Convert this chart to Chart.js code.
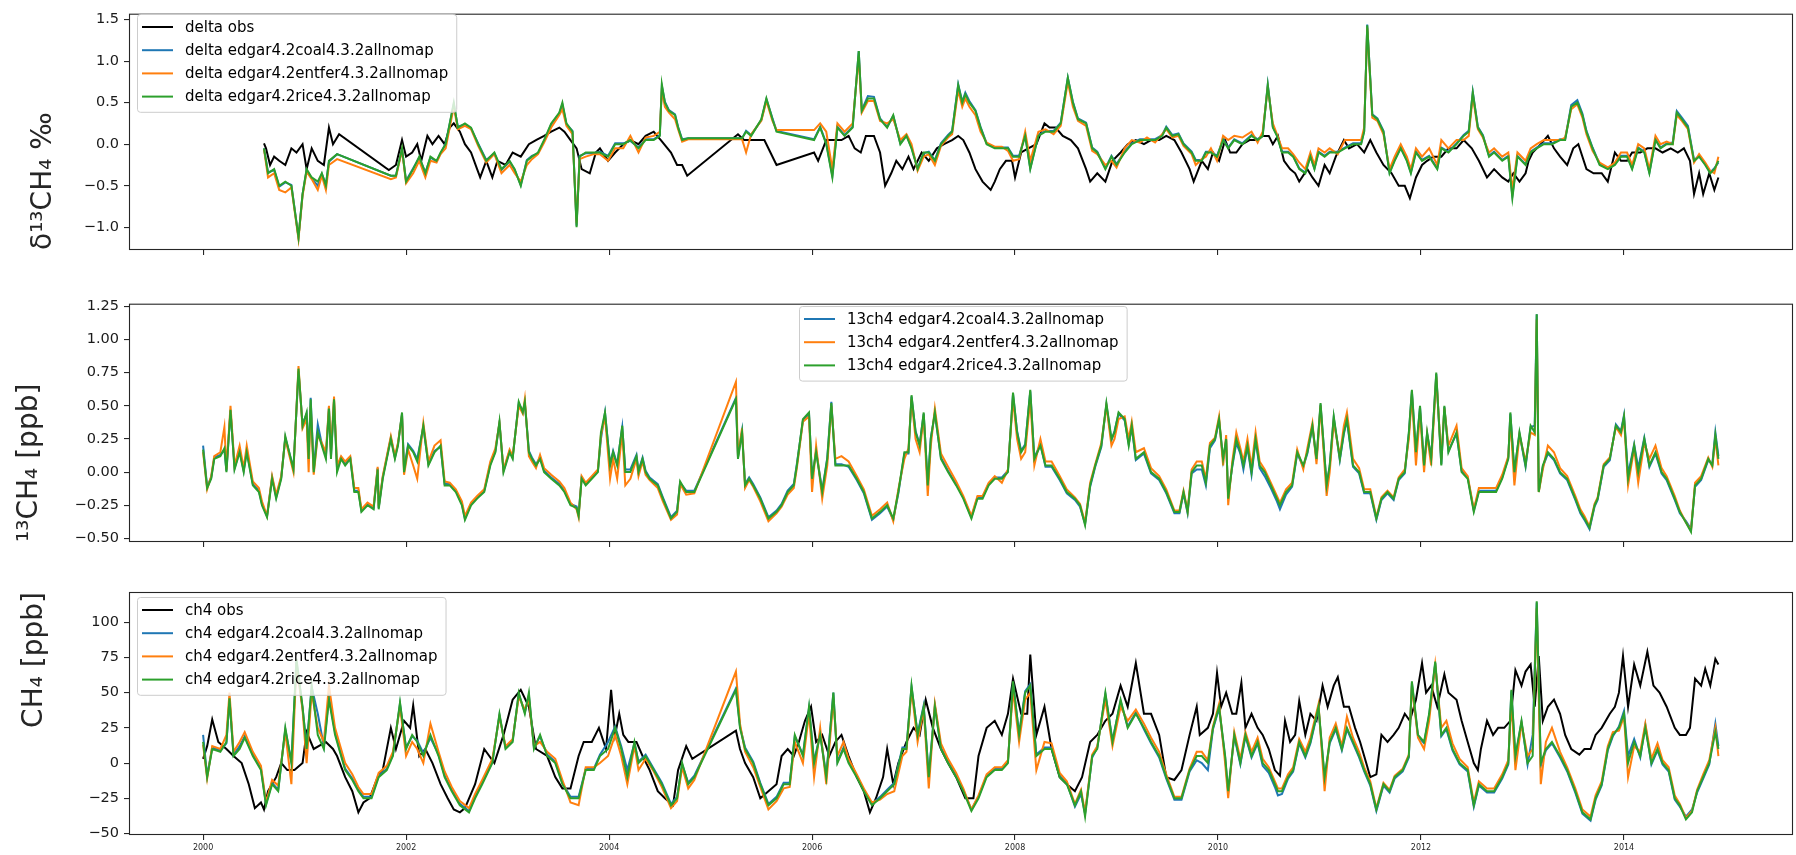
<!DOCTYPE html>
<html><head><meta charset="utf-8">
<script src="https://cdn.jsdelivr.net/npm/chart.js@4.4.0/dist/chart.umd.min.js"></script>
<style>
html,body{margin:0;padding:0;background:#fff;}
body{width:1796px;height:855px;position:relative;overflow:hidden;}
.panel{position:absolute;left:0;width:1796px;}
</style></head><body>
<div class="panel" style="top:0;height:290px"><canvas id="c1" width="1796" height="290"></canvas></div>
<div class="panel" style="top:290px;height:280px"><canvas id="c2" width="1796" height="280"></canvas></div>
<div class="panel" style="top:570px;height:285px"><canvas id="c3" width="1796" height="285"></canvas></div>
<script>
// ---------------- tick labels / categories ----------------
const xTicks = [2000, 2002, 2004, 2006, 2008, 2010, 2012, 2014];
const deltaTicks = [-1.0, -0.5, 0.0, 0.5, 1.0, 1.5];
const c13Ticks = [-0.50, -0.25, 0.00, 0.25, 0.50, 0.75, 1.00, 1.25];
const ch4Ticks = [-50, -25, 0, 25, 50, 75, 100];

const deltaLabels = ['delta obs', 'delta edgar4.2coal4.3.2allnomap', 'delta edgar4.2entfer4.3.2allnomap', 'delta edgar4.2rice4.3.2allnomap'];
const c13Labels = ['13ch4 edgar4.2coal4.3.2allnomap', '13ch4 edgar4.2entfer4.3.2allnomap', '13ch4 edgar4.2rice4.3.2allnomap'];
const ch4Labels = ['ch4 obs', 'ch4 edgar4.2coal4.3.2allnomap', 'ch4 edgar4.2entfer4.3.2allnomap', 'ch4 edgar4.2rice4.3.2allnomap'];

// ---------------- top panel: delta 13CH4 ----------------
const deltaObsDates = [
 2000.60,2000.62,2000.66,2000.70,2000.75,2000.81,2000.87,2000.92,2000.98,
 2001.02,2001.07,2001.13,2001.19,2001.24,2001.28,2001.34,2001.83,2001.90,2001.96,
 2002.00,2002.06,2002.11,2002.15,2002.21,2002.26,2002.32,2002.38,2002.43,2002.47,2002.53,2002.58,2002.64,2002.70,2002.73,2002.79,2002.85,2002.90,2002.98,
 2003.05,2003.13,2003.21,2003.28,2003.36,2003.43,2003.51,2003.56,2003.62,2003.68,2003.73,2003.81,2003.87,2003.91,2003.99,
 2004.06,2004.14,2004.21,2004.29,2004.36,2004.44,2004.51,2004.61,2004.67,2004.72,2004.77,
 2005.27,2005.33,2005.42,2005.53,2005.59,2005.65,
 2006.02,2006.06,2006.14,2006.21,2006.29,2006.36,2006.42,2006.48,2006.53,2006.61,2006.67,2006.72,2006.78,2006.83,2006.89,2006.95,
 2007.00,2007.08,2007.15,2007.23,2007.30,2007.38,2007.44,2007.49,2007.55,2007.61,2007.68,2007.76,2007.80,2007.85,2007.91,2007.97,
 2008.00,2008.06,2008.13,2008.21,2008.29,2008.34,2008.40,2008.47,2008.55,2008.62,2008.70,2008.74,2008.81,2008.89,2008.96,
 2009.04,2009.11,2009.19,2009.27,2009.34,2009.42,2009.49,2009.57,2009.64,2009.72,2009.76,2009.84,2009.90,2009.95,
 2010.01,2010.07,2010.12,2010.18,2010.24,2010.31,2010.39,2010.44,2010.50,2010.54,2010.59,2010.65,2010.71,2010.76,2010.80,2010.88,2010.93,2010.99,
 2011.05,2011.10,2011.16,2011.24,2011.29,2011.37,2011.44,2011.50,2011.56,2011.63,2011.71,2011.78,2011.84,2011.89,2011.95,
 2012.01,2012.06,2012.12,2012.20,2012.27,2012.35,2012.42,2012.50,2012.57,2012.65,2012.72,2012.80,2012.86,2012.91,2012.97,
 2013.03,2013.06,2013.10,2013.18,2013.25,2013.31,2013.37,2013.44,2013.50,2013.55,2013.63,2013.70,2013.78,2013.84,2013.91,2013.97,
 2014.03,2014.08,2014.16,2014.23,2014.31,2014.38,2014.46,2014.53,2014.59,2014.65,2014.69,2014.74,2014.78,2014.84,2014.89,2014.93
];
const deltaObs = [
 0.01,-0.05,-0.25,-0.15,-0.20,-0.25,-0.05,-0.10,0.00,
 -0.30,-0.05,-0.20,-0.25,0.20,0.00,0.12,-0.31,-0.25,0.05,
 -0.15,-0.10,0.00,-0.20,0.10,0.00,0.10,0.00,0.20,0.25,0.15,0.00,-0.10,-0.30,-0.40,-0.20,-0.40,-0.20,-0.25,
 -0.10,-0.15,0.00,0.05,0.10,0.15,0.20,0.15,0.05,-0.05,-0.30,-0.35,-0.10,-0.05,-0.20,
 -0.10,0.00,0.05,0.00,0.10,0.15,0.05,-0.10,-0.25,-0.25,-0.38,
 0.12,0.05,0.05,0.05,-0.10,-0.25,
 -0.10,-0.20,0.05,0.05,0.05,0.10,-0.05,-0.10,0.10,0.10,-0.10,-0.50,-0.35,-0.20,-0.30,-0.15,
 -0.30,-0.10,-0.20,-0.05,0.00,0.05,0.10,0.05,-0.10,-0.30,-0.45,-0.55,-0.45,-0.30,-0.20,-0.20,
 -0.40,-0.10,-0.05,0.00,0.25,0.20,0.20,0.10,0.05,-0.05,-0.30,-0.45,-0.35,-0.45,-0.20,
 -0.10,0.00,0.05,0.00,0.05,0.05,0.10,0.05,-0.10,-0.30,-0.45,-0.20,-0.30,-0.10,
 -0.20,0.05,-0.10,-0.10,0.00,0.05,0.05,0.10,0.10,0.00,0.10,-0.20,-0.30,-0.35,-0.45,-0.30,-0.40,-0.50,
 -0.25,-0.35,-0.15,0.05,-0.05,0.00,-0.10,0.05,-0.10,-0.25,-0.35,-0.50,-0.50,-0.65,-0.40,
 -0.25,-0.20,-0.15,-0.15,-0.05,-0.05,0.05,-0.05,-0.20,-0.40,-0.30,-0.40,-0.45,-0.35,-0.45,
 -0.35,-0.20,-0.10,0.00,0.10,-0.05,-0.15,-0.25,-0.05,0.00,-0.30,-0.35,-0.35,-0.45,-0.10,-0.20,
 -0.20,-0.10,-0.10,-0.05,-0.05,-0.10,-0.05,-0.10,-0.05,-0.20,-0.60,-0.35,-0.60,-0.35,-0.55,-0.40
];
const deltaModDates = [
 2000.60,2000.64,2000.70,2000.75,2000.81,2000.87,2000.94,2000.98,
 2001.02,2001.07,2001.13,2001.17,2001.21,2001.24,2001.32,2001.85,2001.90,2001.96,
 2002.00,2002.07,2002.13,2002.19,2002.24,2002.30,2002.34,2002.39,2002.47,2002.51,2002.58,2002.64,2002.71,2002.79,2002.87,2002.94,
 2003.02,2003.07,2003.13,2003.19,2003.24,2003.30,2003.36,2003.43,2003.51,2003.54,2003.58,2003.64,2003.68,2003.71,2003.77,2003.85,2003.91,2003.99,
 2004.06,2004.14,2004.21,2004.29,2004.36,2004.44,2004.50,2004.52,2004.55,2004.59,2004.65,2004.68,2004.72,2004.78,
 2005.31,2005.35,2005.40,2005.50,2005.55,2005.61,2005.65,
 2006.02,2006.08,2006.14,2006.20,2006.25,2006.32,2006.40,2006.46,2006.49,2006.55,2006.61,2006.67,2006.74,2006.80,2006.87,2006.93,2006.98,
 2007.04,2007.10,2007.15,2007.21,2007.27,2007.34,2007.38,2007.44,2007.48,2007.51,2007.55,2007.61,2007.66,2007.72,2007.80,2007.87,2007.93,2007.98,
 2008.04,2008.10,2008.15,2008.23,2008.30,2008.38,2008.45,2008.52,2008.57,2008.62,2008.70,2008.76,2008.81,2008.89,2008.95,
 2009.00,2009.08,2009.15,2009.23,2009.30,2009.38,2009.45,2009.49,2009.55,2009.61,2009.66,2009.74,2009.78,2009.84,2009.88,2009.93,2009.99,
 2010.05,2010.10,2010.16,2010.24,2010.33,2010.39,2010.44,2010.49,2010.54,2010.58,2010.63,2010.69,2010.74,2010.80,2010.86,2010.91,2010.95,2010.99,
 2011.05,2011.10,2011.18,2011.25,2011.33,2011.41,2011.44,2011.47,2011.52,2011.57,2011.63,2011.69,2011.74,2011.80,2011.86,2011.90,2011.95,
 2012.01,2012.08,2012.16,2012.20,2012.27,2012.35,2012.42,2012.47,2012.51,2012.56,2012.61,2012.67,2012.72,2012.80,2012.86,2012.90,2012.95,
 2013.03,2013.08,2013.14,2013.21,2013.29,2013.37,2013.42,2013.48,2013.54,2013.59,2013.63,2013.69,2013.76,2013.84,2013.91,2013.97,
 2014.03,2014.08,2014.14,2014.20,2014.25,2014.31,2014.36,2014.42,2014.48,2014.52,2014.57,2014.63,2014.69,2014.74,2014.80,2014.85,2014.89,2014.93
];
const deltaCoal = [
 -0.05,-0.34,-0.31,-0.51,-0.46,-0.49,-1.12,-0.60,
 -0.31,-0.41,-0.50,-0.36,-0.48,-0.21,-0.12,-0.38,-0.38,-0.06,
 -0.44,-0.29,-0.16,-0.34,-0.16,-0.21,-0.11,0.01,0.48,0.21,0.24,0.19,0.01,-0.19,-0.11,-0.31,
 -0.21,-0.31,-0.49,-0.19,-0.14,-0.11,0.04,0.24,0.37,0.48,0.24,0.16,-0.98,-0.14,-0.11,-0.11,-0.09,-0.14,
 0.01,0.01,0.04,-0.04,0.06,0.06,0.11,0.70,0.51,0.41,0.36,0.21,0.06,0.07,
 0.07,0.16,0.11,0.29,0.54,0.31,0.16,
 0.06,0.21,0.01,-0.38,0.21,0.11,0.21,1.12,0.41,0.58,0.57,0.31,0.21,0.34,0.01,0.11,-0.04,
 -0.29,-0.11,-0.09,-0.19,0.01,0.11,0.16,0.72,0.51,0.62,0.52,0.41,0.21,0.01,-0.04,-0.04,-0.04,-0.14,
 -0.14,0.11,-0.29,0.11,0.16,0.16,0.26,0.80,0.51,0.31,0.26,-0.04,-0.09,-0.29,-0.14,
 -0.24,-0.09,0.01,0.06,0.06,0.06,0.11,0.21,0.11,0.13,0.01,-0.09,-0.19,-0.19,-0.09,-0.09,-0.14,
 0.06,-0.04,0.06,0.01,0.11,0.06,0.11,0.72,0.21,0.11,-0.09,-0.09,-0.14,-0.29,-0.34,-0.14,-0.29,-0.09,
 -0.14,-0.09,-0.09,-0.04,0.01,0.01,0.16,1.44,0.36,0.31,0.16,-0.34,-0.19,-0.04,-0.19,-0.34,-0.09,
 -0.19,-0.14,-0.29,-0.04,-0.09,0.01,0.11,0.16,0.63,0.21,0.11,-0.14,-0.09,-0.19,-0.14,-0.62,-0.14,
 -0.24,-0.09,-0.04,0.01,0.01,0.06,0.06,0.47,0.53,0.37,0.16,-0.04,-0.24,-0.29,-0.24,-0.14,
 -0.14,-0.29,-0.04,-0.09,-0.34,0.06,-0.04,0.01,0.02,0.40,0.32,0.22,-0.19,-0.14,-0.24,-0.34,-0.29,-0.22
];
const deltaEntfer = [
 -0.06,-0.40,-0.35,-0.55,-0.58,-0.52,-1.14,-0.62,
 -0.33,-0.42,-0.55,-0.38,-0.55,-0.25,-0.18,-0.42,-0.40,-0.07,
 -0.47,-0.35,-0.20,-0.40,-0.20,-0.22,-0.12,-0.05,0.45,0.18,0.22,0.18,-0.02,-0.22,-0.12,-0.35,
 -0.25,-0.35,-0.45,-0.25,-0.18,-0.12,0.02,0.20,0.35,0.42,0.22,0.12,-0.95,-0.18,-0.15,-0.12,-0.12,-0.20,
 -0.05,-0.05,0.10,-0.10,0.08,0.10,0.15,0.65,0.45,0.38,0.30,0.18,0.03,0.06,
 0.06,-0.10,0.12,0.28,0.52,0.28,0.17,
 0.17,0.25,0.15,-0.30,0.25,0.15,0.25,1.05,0.38,0.52,0.52,0.28,0.25,0.30,0.05,0.12,0.00,
 -0.32,-0.15,-0.12,-0.25,-0.02,0.08,0.12,0.65,0.45,0.55,0.45,0.35,0.15,0.02,-0.03,-0.03,-0.08,-0.20,
 -0.18,0.15,-0.20,0.15,0.18,0.12,0.22,0.75,0.45,0.28,0.22,-0.08,-0.12,-0.25,-0.20,
 -0.28,-0.05,0.05,0.02,0.08,0.02,0.12,0.18,0.08,0.10,-0.02,-0.12,-0.25,-0.18,-0.15,-0.05,-0.20,
 0.10,0.05,0.10,0.08,0.15,0.02,0.15,0.68,0.25,0.12,-0.05,-0.05,-0.12,-0.22,-0.30,-0.10,-0.25,-0.05,
 -0.10,-0.05,-0.12,0.05,0.05,0.05,0.20,1.40,0.32,0.28,0.12,-0.30,-0.15,0.00,-0.15,-0.30,-0.05,
 -0.15,-0.05,-0.25,0.05,-0.05,0.05,0.05,0.10,0.58,0.18,0.08,-0.10,-0.05,-0.15,-0.10,-0.55,-0.10,
 -0.20,-0.05,0.00,0.05,0.05,0.05,0.08,0.42,0.48,0.32,0.12,-0.08,-0.22,-0.28,-0.22,-0.10,
 -0.10,-0.25,0.00,-0.05,-0.30,0.10,0.00,0.03,0.00,0.35,0.28,0.18,-0.22,-0.12,-0.22,-0.32,-0.35,-0.15
];
const deltaRice = [
 -0.05,-0.35,-0.30,-0.50,-0.45,-0.50,-1.12,-0.60,
 -0.30,-0.40,-0.45,-0.35,-0.50,-0.20,-0.12,-0.38,-0.38,-0.05,
 -0.45,-0.30,-0.15,-0.35,-0.15,-0.20,-0.10,0.00,0.50,0.20,0.25,0.20,0.00,-0.20,-0.10,-0.30,
 -0.20,-0.30,-0.50,-0.20,-0.15,-0.10,0.05,0.25,0.38,0.50,0.25,0.15,-1.00,-0.15,-0.10,-0.10,-0.10,-0.15,
 0.00,0.00,0.05,-0.05,0.05,0.05,0.10,0.72,0.50,0.40,0.35,0.20,0.05,0.07,
 0.07,0.15,0.10,0.30,0.55,0.30,0.15,
 0.05,0.20,0.00,-0.40,0.20,0.10,0.20,1.12,0.40,0.55,0.55,0.30,0.20,0.35,0.00,0.10,-0.05,
 -0.30,-0.10,-0.10,-0.20,0.00,0.10,0.15,0.71,0.50,0.60,0.50,0.40,0.20,0.00,-0.05,-0.05,-0.05,-0.15,
 -0.15,0.10,-0.30,0.10,0.15,0.15,0.25,0.80,0.50,0.30,0.25,-0.05,-0.10,-0.30,-0.15,
 -0.25,-0.10,0.00,0.05,0.05,0.05,0.10,0.20,0.10,0.12,0.00,-0.10,-0.20,-0.20,-0.10,-0.10,-0.15,
 0.05,-0.05,0.05,0.00,0.10,0.05,0.10,0.71,0.20,0.10,-0.10,-0.10,-0.15,-0.30,-0.35,-0.15,-0.30,-0.10,
 -0.15,-0.10,-0.10,-0.05,0.00,0.00,0.15,1.43,0.35,0.30,0.15,-0.35,-0.20,-0.05,-0.20,-0.35,-0.10,
 -0.20,-0.15,-0.30,-0.05,-0.10,0.00,0.10,0.15,0.62,0.20,0.10,-0.15,-0.10,-0.20,-0.15,-0.65,-0.15,
 -0.25,-0.10,-0.05,0.00,0.00,0.05,0.05,0.45,0.50,0.35,0.15,-0.05,-0.25,-0.30,-0.25,-0.15,
 -0.15,-0.30,-0.05,-0.10,-0.35,0.05,-0.05,0.00,0.00,0.38,0.30,0.20,-0.20,-0.15,-0.25,-0.35,-0.30,-0.20
];

// ---------------- middle panel: 13CH4 ----------------
const c13Dates = [
 2000.00,2000.04,2000.08,2000.11,2000.17,2000.21,2000.23,2000.27,2000.31,2000.36,2000.40,2000.43,2000.49,2000.55,2000.58,2000.63,2000.68,2000.72,2000.77,2000.81,2000.89,2000.94,2000.98,
 2001.02,2001.04,2001.06,2001.09,2001.13,2001.17,2001.21,2001.24,2001.26,2001.29,2001.32,2001.36,2001.40,2001.45,2001.49,2001.53,2001.56,2001.62,2001.68,2001.72,2001.73,2001.77,2001.81,2001.85,2001.89,2001.92,2001.96,2001.98,
 2002.02,2002.07,2002.11,2002.17,2002.22,2002.28,2002.34,2002.38,2002.43,2002.49,2002.55,2002.58,2002.64,2002.70,2002.77,2002.83,2002.88,2002.92,2002.96,
 2003.02,2003.05,2003.11,2003.15,2003.17,2003.21,2003.24,2003.28,2003.32,2003.36,2003.43,2003.51,2003.56,2003.62,2003.68,2003.70,2003.73,2003.77,2003.83,2003.89,2003.92,2003.96,
 2004.01,2004.04,2004.08,2004.13,2004.16,2004.21,2004.27,2004.29,2004.33,2004.36,2004.40,2004.48,2004.53,2004.61,2004.67,2004.70,2004.76,2004.84,
 2005.25,2005.27,2005.31,2005.34,2005.38,2005.42,2005.49,2005.57,2005.65,2005.70,2005.76,2005.82,2005.85,2005.91,2005.97,
 2006.00,2006.04,2006.10,2006.15,2006.19,2006.23,2006.29,2006.36,2006.44,2006.51,2006.59,2006.67,2006.74,2006.80,2006.85,2006.91,2006.95,2006.98,
 2007.02,2007.06,2007.10,2007.14,2007.17,2007.21,2007.27,2007.34,2007.42,2007.49,2007.57,2007.63,2007.68,2007.74,2007.80,2007.87,2007.93,2007.98,
 2008.02,2008.06,2008.10,2008.15,2008.19,2008.25,2008.30,2008.36,2008.44,2008.51,2008.59,2008.64,2008.69,2008.74,2008.79,2008.85,2008.90,2008.95,2008.98,
 2009.02,2009.08,2009.12,2009.15,2009.19,2009.27,2009.34,2009.42,2009.49,2009.57,2009.62,2009.66,2009.70,2009.74,2009.79,2009.84,2009.88,2009.92,2009.97,
 2010.01,2010.05,2010.08,2010.10,2010.14,2010.18,2010.22,2010.25,2010.29,2010.33,2010.37,2010.41,2010.46,2010.52,2010.58,2010.61,2010.67,2010.73,2010.78,2010.84,2010.88,2010.93,2010.97,
 2011.01,2011.07,2011.10,2011.14,2011.20,2011.24,2011.27,2011.33,2011.39,2011.44,2011.50,2011.56,2011.61,2011.67,2011.73,2011.78,2011.84,2011.88,2011.91,2011.95,2011.99,
 2012.03,2012.06,2012.10,2012.15,2012.20,2012.23,2012.27,2012.35,2012.40,2012.46,2012.52,2012.57,2012.63,2012.69,2012.74,2012.80,2012.86,2012.88,2012.92,2012.97,
 2013.03,2013.08,2013.12,2013.14,2013.16,2013.20,2013.25,2013.31,2013.37,2013.44,2013.52,2013.57,2013.61,2013.66,2013.71,2013.74,2013.80,2013.86,2013.92,2013.97,
 2014.00,2014.04,2014.10,2014.14,2014.20,2014.25,2014.31,2014.37,2014.42,2014.50,2014.55,2014.61,2014.66,2014.70,2014.76,2014.83,2014.87,2014.90,2014.93
];
const c13Coal = [
 0.20,-0.11,-0.04,0.11,0.13,0.17,0.01,0.46,0.03,0.16,0.01,0.16,-0.09,-0.14,-0.24,-0.33,-0.04,-0.19,-0.04,0.26,0.03,0.76,0.36,
 0.44,0.12,0.56,0.02,0.36,0.21,0.12,0.49,0.12,0.54,0.02,0.11,0.06,0.11,-0.14,-0.14,-0.29,-0.24,-0.27,0.03,-0.27,-0.04,0.11,0.26,0.11,0.21,0.44,0.02,
 0.21,0.16,0.10,0.34,0.06,0.16,0.19,-0.09,-0.09,-0.14,-0.24,-0.35,-0.24,-0.19,-0.14,0.06,0.16,0.37,0.01,
 0.16,0.11,0.52,0.46,0.52,0.16,0.11,0.06,0.11,0.01,-0.04,-0.09,-0.14,-0.24,-0.26,-0.32,-0.04,-0.09,-0.04,0.01,0.25,0.45,
 0.06,0.16,0.06,0.34,0.02,0.02,0.13,0.01,0.11,0.01,-0.04,-0.09,-0.19,-0.34,-0.29,-0.08,-0.14,-0.14,
 0.56,0.11,0.31,-0.09,-0.04,-0.09,-0.19,-0.34,-0.29,-0.24,-0.14,-0.09,0.06,0.39,0.44,
 -0.04,0.16,-0.14,0.11,0.53,0.06,0.06,0.04,-0.06,-0.16,-0.36,-0.31,-0.26,-0.36,-0.16,0.14,0.14,0.57,
 0.31,0.21,0.44,-0.09,0.26,0.44,0.11,0.01,-0.09,-0.19,-0.34,-0.19,-0.19,-0.09,-0.04,-0.04,0.01,0.59,
 0.31,0.16,0.21,0.61,0.11,0.21,0.04,0.04,-0.06,-0.16,-0.21,-0.26,-0.39,-0.11,0.04,0.19,0.51,0.24,0.31,
 0.44,0.39,0.21,0.34,0.09,0.14,-0.01,-0.06,-0.16,-0.31,-0.31,-0.16,-0.31,-0.01,0.02,0.02,-0.10,0.18,0.24,
 0.39,0.09,0.24,-0.18,0.04,0.22,0.14,0.02,0.19,-0.02,0.24,0.03,-0.03,-0.12,-0.22,-0.28,-0.17,-0.11,0.14,0.04,0.14,0.34,0.09,
 0.51,-0.09,0.04,0.41,0.09,0.29,0.39,0.04,-0.01,-0.16,-0.16,-0.36,-0.21,-0.16,-0.21,-0.06,-0.01,0.29,0.61,0.14,0.49,
 0.06,0.29,0.11,0.74,0.06,0.49,0.16,0.29,0.01,-0.04,-0.29,-0.14,-0.14,-0.14,-0.14,-0.04,0.11,0.44,0.01,0.29,
 0.04,0.34,0.35,1.19,-0.14,0.04,0.14,0.09,-0.01,-0.06,-0.21,-0.31,-0.36,-0.43,-0.26,-0.21,0.04,0.09,0.36,0.31,
 0.43,-0.02,0.21,0.03,0.26,0.04,0.14,-0.01,-0.06,-0.21,-0.31,-0.37,-0.43,-0.11,-0.06,0.09,0.06,0.30,0.12
];
const c13Entfer = [
 0.15,-0.13,-0.03,0.12,0.15,0.34,0.02,0.50,0.05,0.20,0.03,0.20,-0.07,-0.12,-0.22,-0.33,-0.03,-0.17,-0.03,0.25,0.00,0.80,0.33,
 0.40,0.00,0.50,-0.02,0.28,0.22,0.15,0.50,0.15,0.57,0.05,0.12,0.08,0.12,-0.12,-0.12,-0.28,-0.23,-0.26,0.04,-0.26,-0.03,0.12,0.27,0.12,0.22,0.43,-0.02,
 0.17,0.05,-0.05,0.37,0.08,0.20,0.24,-0.07,-0.08,-0.13,-0.22,-0.33,-0.23,-0.18,-0.13,0.08,0.18,0.37,0.02,
 0.17,0.12,0.50,0.44,0.55,0.12,0.08,0.03,0.13,0.03,-0.02,-0.07,-0.12,-0.23,-0.28,-0.34,-0.03,-0.08,-0.03,0.02,0.28,0.42,
 -0.05,0.10,-0.05,0.30,-0.10,-0.05,0.10,-0.03,0.08,-0.02,-0.06,-0.12,-0.22,-0.36,-0.32,-0.09,-0.17,-0.16,
 0.68,0.12,0.33,-0.12,-0.06,-0.11,-0.22,-0.37,-0.31,-0.26,-0.17,-0.12,0.03,0.38,0.42,
 -0.15,0.20,-0.20,0.05,0.50,0.10,0.12,0.08,-0.03,-0.13,-0.33,-0.28,-0.23,-0.37,-0.13,0.10,0.18,0.55,
 0.25,0.15,0.42,-0.18,0.20,0.48,0.14,0.04,-0.07,-0.18,-0.33,-0.18,-0.18,-0.08,-0.03,-0.08,0.02,0.55,
 0.25,0.10,0.15,0.55,0.05,0.25,0.08,0.08,-0.03,-0.13,-0.19,-0.24,-0.38,-0.08,0.06,0.22,0.50,0.20,0.25,
 0.40,0.42,0.25,0.38,0.15,0.18,0.03,-0.03,-0.13,-0.29,-0.29,-0.14,-0.29,0.02,0.08,0.08,-0.05,0.22,0.26,
 0.42,0.05,0.28,-0.25,0.08,0.30,0.18,0.08,0.25,0.04,0.30,0.08,0.02,-0.08,-0.18,-0.23,-0.13,-0.08,0.17,0.02,0.18,0.37,0.06,
 0.50,-0.18,0.00,0.38,0.12,0.35,0.45,0.10,0.03,-0.13,-0.13,-0.34,-0.19,-0.14,-0.19,-0.04,0.02,0.25,0.58,0.05,0.45,
 0.00,0.28,0.05,0.72,0.10,0.48,0.20,0.35,0.03,-0.03,-0.28,-0.12,-0.12,-0.12,-0.12,-0.02,0.12,0.40,-0.10,0.28,
 0.08,0.30,0.28,1.15,-0.15,0.02,0.20,0.15,0.03,-0.03,-0.18,-0.28,-0.33,-0.41,-0.24,-0.19,0.06,0.11,0.34,0.28,
 0.40,-0.10,0.18,-0.08,0.22,0.10,0.20,0.03,-0.03,-0.18,-0.29,-0.38,-0.44,-0.08,-0.03,0.11,0.04,0.25,0.05
];
const c13Rice = [
 0.17,-0.12,-0.05,0.10,0.12,0.18,0.00,0.47,0.02,0.15,0.00,0.15,-0.10,-0.15,-0.25,-0.34,-0.05,-0.20,-0.05,0.27,0.02,0.78,0.35,
 0.45,0.10,0.55,0.00,0.30,0.20,0.10,0.48,0.10,0.55,0.00,0.10,0.05,0.10,-0.15,-0.15,-0.30,-0.25,-0.28,0.02,-0.28,-0.05,0.10,0.25,0.10,0.20,0.45,0.00,
 0.20,0.15,0.08,0.35,0.05,0.15,0.20,-0.10,-0.10,-0.15,-0.25,-0.36,-0.25,-0.20,-0.15,0.05,0.15,0.38,0.00,
 0.15,0.10,0.53,0.45,0.53,0.15,0.10,0.05,0.10,0.00,-0.05,-0.10,-0.15,-0.25,-0.27,-0.33,-0.05,-0.10,-0.05,0.00,0.30,0.45,
 0.05,0.15,0.05,0.35,0.00,0.00,0.12,0.00,0.10,0.00,-0.05,-0.10,-0.20,-0.35,-0.30,-0.07,-0.15,-0.15,
 0.55,0.10,0.30,-0.10,-0.05,-0.10,-0.20,-0.35,-0.30,-0.25,-0.15,-0.10,0.05,0.40,0.45,
 -0.05,0.15,-0.15,0.10,0.52,0.05,0.05,0.05,-0.05,-0.15,-0.35,-0.30,-0.25,-0.35,-0.15,0.15,0.15,0.58,
 0.30,0.20,0.45,-0.10,0.25,0.45,0.10,0.00,-0.10,-0.20,-0.35,-0.20,-0.20,-0.10,-0.05,-0.05,0.00,0.60,
 0.30,0.15,0.20,0.62,0.10,0.20,0.05,0.05,-0.05,-0.15,-0.20,-0.25,-0.40,-0.10,0.05,0.20,0.52,0.25,0.30,
 0.45,0.40,0.20,0.35,0.10,0.15,0.00,-0.05,-0.15,-0.30,-0.30,-0.15,-0.30,0.00,0.05,0.05,-0.08,0.20,0.25,
 0.40,0.10,0.25,-0.20,0.05,0.25,0.15,0.05,0.20,0.00,0.25,0.05,0.00,-0.10,-0.20,-0.25,-0.15,-0.10,0.15,0.05,0.15,0.35,0.10,
 0.52,-0.10,0.05,0.42,0.10,0.30,0.40,0.05,0.00,-0.15,-0.15,-0.35,-0.20,-0.15,-0.20,-0.05,0.00,0.30,0.62,0.15,0.50,
 0.05,0.30,0.10,0.75,0.05,0.50,0.15,0.30,0.00,-0.05,-0.30,-0.15,-0.15,-0.15,-0.15,-0.05,0.10,0.45,0.00,0.30,
 0.05,0.35,0.30,1.19,-0.15,0.05,0.15,0.10,0.00,-0.05,-0.20,-0.30,-0.35,-0.42,-0.25,-0.20,0.05,0.10,0.35,0.30,
 0.42,-0.05,0.20,0.00,0.25,0.05,0.15,0.00,-0.05,-0.20,-0.30,-0.38,-0.45,-0.10,-0.05,0.10,0.05,0.28,0.10
];

// ---------------- bottom panel: CH4 ----------------
const ch4ObsDates = [
 2000.00,2000.04,2000.09,2000.15,2000.23,2000.30,2000.38,2000.45,2000.51,2000.57,2000.60,2000.64,2000.72,2000.77,2000.83,2000.90,2000.98,
 2001.02,2001.09,2001.21,2001.28,2001.32,2001.40,2001.47,2001.53,2001.58,2001.64,2001.72,2001.77,2001.85,2001.90,2001.98,
 2002.04,2002.07,2002.13,2002.19,2002.26,2002.34,2002.41,2002.47,2002.53,2002.58,2002.68,2002.77,2002.87,2002.96,
 2003.05,2003.13,2003.21,2003.28,2003.39,2003.47,2003.54,2003.62,2003.70,2003.75,2003.83,2003.90,2003.97,
 2004.02,2004.06,2004.10,2004.14,2004.19,2004.27,2004.33,2004.40,2004.48,2004.55,2004.63,2004.68,2004.76,2004.82,
 2005.25,2005.29,2005.34,2005.42,2005.49,2005.57,2005.65,2005.70,2005.76,2005.82,2005.87,2005.93,2005.99,
 2006.04,2006.10,2006.17,2006.23,2006.29,2006.36,2006.44,2006.51,2006.57,2006.63,2006.70,2006.74,2006.80,2006.85,2006.93,
 2007.00,2007.06,2007.12,2007.19,2007.27,2007.34,2007.42,2007.51,2007.59,2007.64,2007.72,2007.80,2007.87,2007.93,2007.98,
 2008.06,2008.12,2008.15,2008.21,2008.29,2008.36,2008.44,2008.51,2008.59,2008.66,2008.74,2008.81,2008.89,2008.96,
 2009.04,2009.11,2009.19,2009.27,2009.34,2009.42,2009.49,2009.57,2009.64,2009.72,2009.79,2009.82,2009.90,2009.95,2009.99,
 2010.03,2010.08,2010.14,2010.18,2010.23,2010.27,2010.33,2010.39,2010.44,2010.50,2010.56,2010.61,2010.66,2010.71,2010.76,2010.80,2010.86,2010.91,2010.97,
 2011.03,2011.08,2011.14,2011.18,2011.24,2011.29,2011.35,2011.40,2011.46,2011.50,2011.56,2011.61,2011.67,2011.73,2011.78,2011.84,2011.89,2011.95,
 2012.01,2012.05,2012.10,2012.16,2012.23,2012.27,2012.35,2012.40,2012.46,2012.52,2012.56,2012.59,2012.65,2012.71,2012.76,2012.82,2012.88,2012.93,2012.99,
 2013.03,2013.08,2013.12,2013.16,2013.20,2013.25,2013.31,2013.37,2013.42,2013.48,2013.56,2013.61,2013.67,2013.72,2013.78,2013.86,2013.91,2013.95,2013.99,
 2014.04,2014.10,2014.16,2014.23,2014.29,2014.35,2014.42,2014.50,2014.55,2014.61,2014.65,2014.70,2014.76,2014.80,2014.85,2014.90,2014.93
];
const ch4Obs = [
 3,12,31,15,10,5,0,-15,-32,-28,-33,-20,-10,0,-5,-5,0,
 22,10,15,10,5,-10,-20,-35,-28,-25,-10,-5,25,10,30,
 25,41,5,10,0,-15,-25,-33,-35,-32,-15,10,0,20,
 45,52,40,10,5,-10,-18,-18,5,15,15,25,10,
 52,20,35,20,15,15,5,-5,-20,-25,-30,-5,12,3,
 23,10,0,-10,-25,-20,-15,5,10,5,15,30,40,
 15,20,5,15,20,5,-10,-20,-35,-25,-10,10,-15,0,15,
 25,20,45,25,10,0,-10,-25,-25,5,25,30,20,35,60,
 35,35,77,20,40,10,-10,-15,-20,-10,15,20,30,35,
 55,40,71,35,35,20,-10,-12,-5,20,40,20,25,35,64,
 40,50,35,35,57,25,35,25,20,10,-5,-9,30,15,20,44,20,35,30,
 55,40,55,61,40,40,25,15,0,-10,-8,20,15,20,25,35,30,45,
 71,50,55,40,63,50,45,30,15,0,-5,10,30,20,25,25,30,66,55,
 65,70,40,76,30,40,45,35,20,10,6,10,10,20,25,35,40,50,76,
 40,70,55,79,55,50,40,25,20,20,25,60,55,67,55,74,70
];
const ch4ModDates = [
 2000.00,2000.04,2000.09,2000.17,2000.23,2000.26,2000.30,2000.36,2000.41,2000.49,2000.57,2000.62,2000.68,2000.74,2000.81,2000.87,2000.92,2000.98,
 2001.02,2001.07,2001.13,2001.19,2001.24,2001.30,2001.34,2001.40,2001.47,2001.53,2001.58,2001.66,2001.73,2001.81,2001.87,2001.94,
 2002.00,2002.06,2002.11,2002.17,2002.24,2002.32,2002.38,2002.45,2002.53,2002.62,2002.68,2002.75,2002.85,2002.92,2002.98,
 2003.05,2003.11,2003.17,2003.21,2003.26,2003.32,2003.39,2003.47,2003.54,2003.62,2003.70,2003.77,2003.85,2003.91,2003.99,
 2004.06,2004.12,2004.18,2004.25,2004.29,2004.36,2004.44,2004.52,2004.61,2004.67,2004.72,2004.78,2004.84,
 2005.25,2005.29,2005.34,2005.42,2005.49,2005.57,2005.65,2005.72,2005.78,2005.83,2005.91,2005.97,
 2006.02,2006.08,2006.14,2006.21,2006.25,2006.31,2006.36,2006.44,2006.51,2006.59,2006.67,2006.74,2006.81,2006.89,2006.93,2006.98,
 2007.04,2007.10,2007.15,2007.21,2007.27,2007.34,2007.42,2007.49,2007.57,2007.64,2007.72,2007.80,2007.87,2007.93,2007.98,
 2008.04,2008.10,2008.15,2008.21,2008.29,2008.36,2008.44,2008.51,2008.59,2008.65,2008.69,2008.76,2008.81,2008.89,2008.96,
 2009.04,2009.11,2009.19,2009.27,2009.34,2009.42,2009.49,2009.57,2009.64,2009.72,2009.79,2009.84,2009.90,2009.95,
 2010.01,2010.07,2010.10,2010.16,2010.22,2010.27,2010.33,2010.39,2010.44,2010.50,2010.56,2010.59,2010.63,2010.69,2010.74,2010.80,2010.86,2010.91,2010.99,
 2011.05,2011.10,2011.16,2011.22,2011.27,2011.33,2011.39,2011.44,2011.50,2011.56,2011.63,2011.69,2011.74,2011.82,2011.88,2011.91,2011.97,
 2012.03,2012.08,2012.14,2012.20,2012.25,2012.31,2012.38,2012.46,2012.52,2012.57,2012.65,2012.72,2012.80,2012.86,2012.89,2012.93,2012.99,
 2013.05,2013.10,2013.14,2013.18,2013.23,2013.29,2013.37,2013.44,2013.52,2013.59,2013.67,2013.72,2013.78,2013.84,2013.89,2013.95,
 2014.00,2014.04,2014.10,2014.16,2014.21,2014.27,2014.33,2014.38,2014.44,2014.50,2014.55,2014.61,2014.67,2014.72,2014.78,2014.84,2014.90,2014.93
];
const ch4Coal = [
 20,-9,11,9,14,45,6,12,19,6,-4,-29,-14,-19,24,1,72,39,
 12,54,35,12,47,22,11,-4,-11,-19,-24,-24,-9,-4,6,42,
 11,19,16,7,18,6,-9,-19,-29,-34,-24,-14,1,34,11,
 16,49,36,48,11,19,6,1,-14,-24,-24,-4,-4,6,15,
 26,12,-5,14,1,6,-4,-14,-29,-24,-1,-14,-9,
 53,26,11,1,-14,-29,-24,-14,-14,19,6,39,
 1,21,-9,50,1,11,1,-9,-19,-29,-24,-19,-14,11,11,54,
 21,41,-9,41,11,1,-9,-19,-33,-24,-9,-4,-4,1,57,
 21,51,56,6,11,11,-9,-14,-31,-22,-36,4,11,49,16,
 44,26,36,24,14,4,-11,-26,-26,-6,2,0,-5,24,
 39,4,-21,19,-1,19,4,14,-2,-7,-17,-23,-22,-11,-6,14,4,14,39,
 -11,14,24,9,24,14,4,-6,-16,-34,-16,-21,-11,-6,4,57,19,
 14,34,71,19,24,9,-1,-6,-31,-16,-21,-21,-11,-1,51,4,29,
 -1,20,114,-2,9,14,4,-6,-21,-36,-41,-26,-16,9,19,26,
 37,5,17,4,27,-1,9,-1,-6,-26,-31,-38,-33,-21,-11,-1,28,12
];
const ch4Entfer = [
 13,-11,12,10,20,50,8,15,22,8,-2,-28,-12,-16,22,-15,70,38,
 0,50,25,15,55,25,15,0,-8,-17,-22,-22,-7,-2,8,40,
 5,15,10,0,28,8,-6,-17,-27,-32,-22,-12,3,33,12,
 17,47,38,45,12,15,8,3,-12,-28,-30,-3,-3,0,5,
 20,5,-15,12,-5,3,-6,-17,-32,-27,-3,-18,-12,
 65,28,8,-3,-17,-33,-27,-18,-17,15,0,35,
 -10,25,-15,45,5,15,3,-8,-18,-28,-26,-22,-20,5,8,52,
 15,38,-18,42,14,3,-7,-18,-33,-23,-8,-3,-3,2,52,
 15,45,50,-5,15,14,-7,-13,-29,-19,-35,6,12,45,12,
 40,30,38,28,18,8,-8,-24,-24,-4,8,8,2,26,
 42,0,-25,22,3,22,8,18,3,-3,-13,-18,-18,-8,-3,17,8,18,42,
 -20,18,28,12,33,18,8,-3,-13,-32,-14,-19,-9,-4,6,55,18,
 10,30,70,25,30,14,3,-3,-28,-13,-18,-18,-8,2,45,-5,28,
 5,10,110,-15,15,25,8,-3,-18,-33,-38,-23,-13,12,22,23,
 33,-10,12,8,28,3,14,2,-3,-23,-29,-39,-34,-19,-8,2,25,5
];
const ch4Rice = [
 15,-10,10,8,15,46,5,10,18,5,-5,-30,-15,-20,25,0,74,40,
 10,55,20,10,45,20,10,-5,-12,-20,-25,-25,-10,-5,5,43,
 10,20,15,5,20,5,-10,-20,-30,-35,-25,-15,0,35,10,
 15,50,35,50,10,20,5,0,-15,-25,-25,-5,-5,5,10,
 25,10,-10,15,0,5,-5,-15,-30,-25,0,-15,-10,
 52,25,10,0,-15,-30,-25,-15,-15,20,5,40,
 0,20,-10,50,0,10,0,-10,-20,-30,-25,-20,-15,10,10,55,
 20,40,-10,40,10,0,-10,-20,-34,-25,-10,-5,-5,0,58,
 20,50,55,5,10,10,-10,-15,-30,-20,-38,5,10,50,15,
 45,25,35,25,15,5,-10,-25,-25,-5,5,5,0,25,
 40,5,-20,20,0,20,5,15,0,-5,-15,-20,-20,-10,-5,15,5,15,40,
 -10,15,25,10,25,15,5,-5,-15,-33,-15,-20,-10,-5,5,58,20,
 15,35,72,20,25,10,0,-5,-30,-15,-20,-20,-10,0,52,5,30,
 0,5,115,0,10,15,5,-5,-20,-35,-40,-25,-15,10,20,25,
 35,0,15,5,25,0,10,0,-5,-25,-30,-40,-35,-20,-10,0,22,10
];

// ---------------- rendering ----------------
const FONT = "'DejaVu Sans', 'Liberation Sans', sans-serif";
const COL = { obs: '#000000', coal: '#1f77b4', entfer: '#ff7f0e', rice: '#2ca02c' };
const X_MIN = 1999.27, X_MAX = 2015.665;

function pts(xs, ys) {
  if (xs.length !== ys.length) throw new Error('length mismatch ' + xs.length + ' vs ' + ys.length);
  return xs.map((x, i) => ({ x: x, y: ys[i] }));
}
function fmt(v, d) { return v.toFixed(d).replace('-', '\u2212'); }

function framePlugin() {
  return {
    id: 'frame',
    afterDatasetsDraw(chart) {
      const a = chart.chartArea, ctx = chart.ctx;
      ctx.save();
      ctx.strokeStyle = '#262626';
      ctx.lineWidth = 1.1;
      ctx.strokeRect(a.left + 0.5, a.top + 0.5, a.right - a.left - 1, a.bottom - a.top - 1);
      ctx.restore();
    }
  };
}
function legendPlugin(cfg) {
  return {
    id: 'mplLegend',
    afterDraw(chart) {
      const ctx = chart.ctx;
      ctx.save();
      ctx.font = '15px ' + FONT;
      let tw = 0;
      cfg.items.forEach(it => { tw = Math.max(tw, ctx.measureText(it.label).width); });
      const rowH = 23.2;
      const w = 48 + tw + 8, h = cfg.items.length * rowH + 5;
      ctx.beginPath();
      ctx.roundRect(cfg.x + 0.5, cfg.y + 0.5, w, h, 3);
      ctx.fillStyle = 'rgba(255,255,255,0.8)';
      ctx.fill();
      ctx.strokeStyle = '#cccccc';
      ctx.lineWidth = 1;
      ctx.stroke();
      ctx.textBaseline = 'middle';
      ctx.textAlign = 'left';
      cfg.items.forEach((it, i) => {
        const cy = cfg.y + 13 + i * rowH;
        ctx.strokeStyle = it.color;
        ctx.lineWidth = 2;
        ctx.beginPath();
        ctx.moveTo(cfg.x + 5, cy);
        ctx.lineTo(cfg.x + 36, cy);
        ctx.stroke();
        ctx.fillStyle = '#000';
        ctx.fillText(it.label, cfg.x + 48, cy + 1);
      });
      ctx.restore();
    }
  };
}

function makeChart(id, c) {
  const n = c.series.length;
  const datasets = c.series.map((s, i) => ({
    label: s.label, data: pts(s.x, s.y),
    borderColor: s.color, backgroundColor: s.color,
    borderWidth: 2, pointRadius: 0, pointHoverRadius: 0, tension: 0,
    fill: false, spanGaps: true, order: n - i
  }));
  const grid = { display: true, drawOnChartArea: false, drawTicks: true, tickLength: 5, color: '#262626', lineWidth: 1.1 };
  return new Chart(document.getElementById(id), {
    type: 'line',
    data: { datasets },
    options: {
      responsive: false, animation: false, devicePixelRatio: 1,
      events: [],
      layout: { padding: { top: c.top, right: 3, bottom: 0, left: 0 } },
      plugins: { legend: { display: false }, tooltip: { enabled: false } },
      scales: {
        x: {
          type: 'linear', min: X_MIN, max: X_MAX,
          afterBuildTicks: s => { s.ticks = xTicks.map(v => ({ value: v })); },
          afterFit: s => { s.height = c.xHeight; },
          ticks: { display: c.xLabels, autoSkip: false, maxRotation: 0, padding: 3,
                   font: { size: 8, family: FONT }, color: '#262626', callback: v => String(v) },
          grid: grid, border: { display: false }
        },
        y: {
          type: 'linear', min: c.yMin, max: c.yMax,
          afterBuildTicks: s => { s.ticks = c.yTicks.map(v => ({ value: v })); },
          afterFit: s => { s.width = 129; },
          ticks: { padding: 5, font: { size: 14.5, family: FONT }, color: '#1a1a1a',
                   callback: v => fmt(v, c.dec) },
          grid: grid, border: { display: false },
          title: { display: true, text: c.title, align: c.titleAlign, color: '#262626',
                   font: { size: 28, family: FONT }, padding: { top: c.titlePad, bottom: 0 } }
        }
      }
    },
    plugins: [framePlugin(), legendPlugin(c.legend)]
  });
}

makeChart('c1', {
  top: 7, xHeight: 40, xLabels: false, yMin: -1.273, yMax: 1.57, yTicks: deltaTicks, dec: 1,
  title: '\u03b4\u00b9\u00b3CH\u2084 \u2030', titleAlign: 'start', titlePad: 27,
  series: [
    { label: deltaLabels[0], x: deltaObsDates, y: deltaObs, color: COL.obs },
    { label: deltaLabels[1], x: deltaModDates, y: deltaCoal, color: COL.coal },
    { label: deltaLabels[2], x: deltaModDates, y: deltaEntfer, color: COL.entfer },
    { label: deltaLabels[3], x: deltaModDates, y: deltaRice, color: COL.rice }
  ],
  legend: { x: 137, y: 14, items: [
    { label: deltaLabels[0], color: COL.obs }, { label: deltaLabels[1], color: COL.coal },
    { label: deltaLabels[2], color: COL.entfer }, { label: deltaLabels[3], color: COL.rice } ] }
});
makeChart('c2', {
  top: 10, xHeight: 28, xLabels: false, yMin: -0.527, yMax: 1.27, yTicks: c13Ticks, dec: 2,
  title: '\u00b9\u00b3CH\u2084 [ppb]', titleAlign: 'start', titlePad: 13,
  series: [
    { label: c13Labels[0], x: c13Dates, y: c13Coal, color: COL.coal },
    { label: c13Labels[1], x: c13Dates, y: c13Entfer, color: COL.entfer },
    { label: c13Labels[2], x: c13Dates, y: c13Rice, color: COL.rice }
  ],
  legend: { x: 799, y: 16, items: [
    { label: c13Labels[0], color: COL.coal }, { label: c13Labels[1], color: COL.entfer },
    { label: c13Labels[2], color: COL.rice } ] }
});
makeChart('c3', {
  top: 22, xHeight: 20, xLabels: true, yMin: -51.1, yMax: 121.5, yTicks: ch4Ticks, dec: 0,
  title: 'CH\u2084 [ppb]', titleAlign: 'end', titlePad: 18,
  series: [
    { label: ch4Labels[0], x: ch4ObsDates, y: ch4Obs, color: COL.obs },
    { label: ch4Labels[1], x: ch4ModDates, y: ch4Coal, color: COL.coal },
    { label: ch4Labels[2], x: ch4ModDates, y: ch4Entfer, color: COL.entfer },
    { label: ch4Labels[3], x: ch4ModDates, y: ch4Rice, color: COL.rice }
  ],
  legend: { x: 137, y: 27, items: [
    { label: ch4Labels[0], color: COL.obs }, { label: ch4Labels[1], color: COL.coal },
    { label: ch4Labels[2], color: COL.entfer }, { label: ch4Labels[3], color: COL.rice } ] }
});
</script>
</body></html>
